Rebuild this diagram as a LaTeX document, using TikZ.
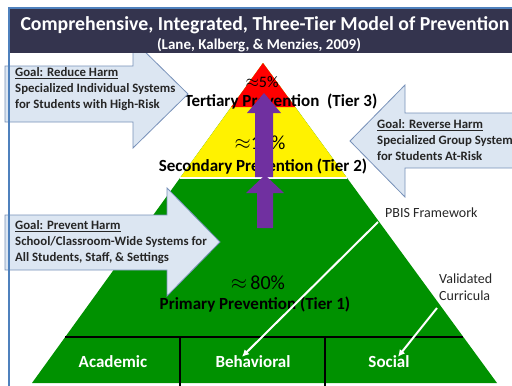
\documentclass[tikz,border=0pt]{standalone}
\usepackage{fontspec}
\setmainfont{Carlito}
\usetikzlibrary{arrows.meta,calc}
\tikzset{>=Latex}

\definecolor{frameblue}{RGB}{79,129,189}
\definecolor{headnavy}{RGB}{52,52,78}
\definecolor{goalfill}{RGB}{220,230,242}
\definecolor{goalline}{RGB}{120,145,185}
\definecolor{tiergreen}{RGB}{0,145,0}
\definecolor{tierpurple}{RGB}{112,48,160}
\definecolor{goaltext}{RGB}{38,38,38}

\tikzset{
  goalarrow/.style={fill=goalfill, draw=goalline, line width=0.8pt},
  goaltxt/.style={anchor=west, inner sep=0pt, align=left, text=goaltext,
    font=\fontsize{12.8}{16}\selectfont\bfseries},
  tierlabel/.style={inner sep=0pt, font=\fontsize{17}{19}\selectfont\bfseries},
  pct/.style={inner sep=0pt, font=\fontsize{20}{22}\selectfont},
  bandtxt/.style={inner sep=0pt, text=white, font=\fontsize{17}{19}\selectfont\bfseries},
  sidetxt/.style={inner sep=0pt, anchor=west, align=left, text=goaltext,
    font=\fontsize{14}{17}\selectfont},
  upbar/.style={fill=tierpurple},
  pointer/.style={white, line width=2pt, -{Latex[length=7pt,width=7pt]}},
}

\begin{document}
\begin{tikzpicture}[x=1pt,y=-1pt]
\useasboundingbox (0,0) rectangle (512,386);
\clip (0,0) rectangle (512,386);

% pyramid
\coordinate (apex) at (263,63);
\coordinate (bl) at (32,383);
\coordinate (br) at (497,383);
\coordinate (redl) at ($(apex)!0.1375!(bl)$);
\coordinate (redr) at ($(apex)!0.1375!(br)$);
\coordinate (yell) at ($(apex)!0.3594!(bl)$);
\coordinate (yelr) at ($(apex)!0.3594!(br)$);
\coordinate (bandl) at ($(apex)!0.856!(bl)$);
\coordinate (bandr) at ($(apex)!0.856!(br)$);

\fill[tiergreen] (apex) -- (bl) -- (br) -- cycle;
\fill[yellow] (apex) -- (yell) -- (yelr) -- cycle;
\fill[red] (apex) -- (redl) -- (redr) -- cycle;
\draw[white, line width=1.5pt] (yell) -- (yelr);
\draw[line width=1.6pt] (bandl) -- (bandr);
\draw[line width=1.2pt] (180,337) -- (180,386);
\draw[line width=1.2pt] (325,337) -- (325,386);

% tier texts
\node[inner sep=0pt, font=\fontsize{16}{18}\selectfont] (p5) at (262,82) {$\approx$5\%};
\node[tierlabel] (tert) at (281,102) {Tertiary Prevention\ \ (Tier 3)};
\node[pct] (p10) at (260,143) {$\approx$10\%};
\node[tierlabel] (sec) at (263,167) {Secondary Prevention (Tier 2)};
\node[pct] (p80) at (258,283) {$\approx$\,80\%};
\node[tierlabel] (prim) at (255,305) {Primary Prevention (Tier 1)};

\node[bandtxt] (acad) at (113,362) {Academic};
\node[bandtxt] (beh) at (253,362) {Behavioral};
\node[bandtxt] (soc) at (389,362) {Social};

% purple arrows
\fill[upbar] (255,177) -- (273,177) -- (273,113) -- (281,113) -- (264,93)
  -- (247,113) -- (255,113) -- cycle;
\fill[upbar] (257,228) -- (273,228) -- (273,193) -- (284,193) -- (265,175)
  -- (246,193) -- (257,193) -- cycle;

% side notes and pointers
\node[sidetxt] (pbis) at (385,213) {PBIS Framework};
\node[sidetxt] (curr) at (439,287) {Validated\\Curricula};
\coordinate (pbisfoot) at (378,222);
\coordinate (currfoot) at (437,308);
\draw[pointer] (pbisfoot) -- ([xshift=-11pt,yshift=-1pt]beh.north);
\draw[pointer] (currfoot) -- ([xshift=9pt,yshift=-1pt]soc.north);

% goal arrows
\draw[goalarrow] (5,66) -- (133,66) -- (133,40) -- (188,94) -- (133,148)
  -- (133,122) -- (5,122) -- cycle;
\node[goaltxt] (reduce) at (15,89) {\underline{Goal: Reduce Harm}\\
  Specialized Individual Systems\\for Students with High-Risk};

\draw[goalarrow] (516,113) -- (405,113) -- (405,85) -- (350,141) -- (405,197)
  -- (405,168) -- (516,168) -- cycle;
\node[goaltxt] (reverse) at (377,140) {\underline{Goal: Reverse Harm}\\
  Specialized Group Systems\\for Students At-Risk};

\draw[goalarrow] (5,215) -- (167,215) -- (167,188) -- (220,242) -- (167,296)
  -- (167,270) -- (5,270) -- cycle;
\node[goaltxt] (prevent) at (15,242) {\underline{Goal: Prevent Harm}\\
  School/Classroom-Wide Systems for\\All Students, Staff, \& Settings};

% header
\fill[headnavy] (9,8) rectangle (512,53);
\node[inner sep=0pt, text=white, font=\fontsize{19.8}{22}\selectfont\bfseries]
  (title) at (265,25) {Comprehensive, Integrated, Three-Tier Model of Prevention};
\node[inner sep=0pt, text=white, font=\fontsize{15}{17}\selectfont\bfseries]
  (source) at (259,45) {(Lane, Kalberg, \& Menzies, 2009)};
\draw[frameblue, line width=1.5pt] (9,386) -- (9,8) -- (512,8);
\end{tikzpicture}
\end{document}
